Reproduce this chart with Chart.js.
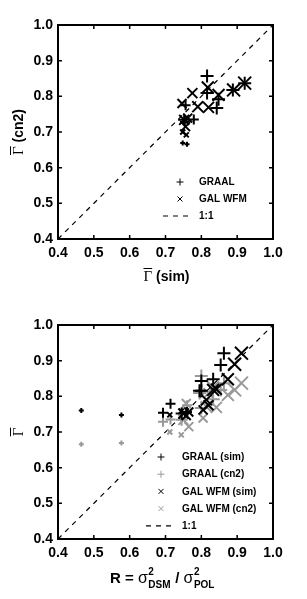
<!DOCTYPE html>
<html>
<head>
<meta charset="utf-8">
<script src="https://cdn.jsdelivr.net/npm/chart.js@4.4.0/dist/chart.umd.min.js"></script>
<style>
  body { margin: 0; background: #fff; }
  canvas { display: block; }
</style>
</head>
<body>
<canvas id="topChart" width="307" height="300"></canvas>
<canvas id="bottomChart" width="307" height="299"></canvas>
<script>
// axis ticks (both axes, both panels)
const tickValues = [0.4, 0.5, 0.6, 0.7, 0.8, 0.9, 1.0];
const tickLabels = ["0.4", "0.5", "0.6", "0.7", "0.8", "0.9", "1.0"];
const oneToOne = [0.4, 1.0];

// GRAAL: ratio R, mean gamma from simulation and from cn2, marker size
const graalR    = [0.465, 0.577, 0.693, 0.714, 0.745, 0.760, 0.800, 0.795, 0.800, 0.833, 0.854, 0.863];
const graalSim  = [0.760, 0.748, 0.754, 0.779, 0.752, 0.756, 0.816, 0.816, 0.843, 0.848, 0.888, 0.921];
const graalCn2  = [0.666, 0.669, 0.729, 0.735, 0.734, 0.775, 0.857, 0.809, 0.767, 0.792, 0.818, 0.837];
const graalSize = [2.5, 2.5, 5, 5, 6, 5, 6.5, 6.5, 6.5, 6.5, 6.5, 6.5];

// GAL WFM
const galR    = [0.712, 0.744, 0.750, 0.758, 0.765, 0.805, 0.814, 0.820, 0.833, 0.842, 0.874, 0.893, 0.912];
const galSim  = [0.748, 0.758, 0.752, 0.746, 0.756, 0.762, 0.790, 0.775, 0.818, 0.820, 0.848, 0.890, 0.921];
const galCn2  = [0.700, 0.692, 0.734, 0.780, 0.715, 0.739, 0.771, 0.809, 0.825, 0.769, 0.804, 0.818, 0.837];
const galSize = [2.5, 2.5, 5, 4.5, 4.5, 4.5, 5.5, 5, 6, 5.5, 6, 6.5, 6.5];

const GRAY = "#999999";
const SANS = '"Liberation Sans", Arial, sans-serif';
const SERIF = '"Liberation Serif", "Times New Roman", serif';

function pts(xs, ys) {
  return xs.map((x, i) => ({ x: x, y: ys[i] }));
}

function markers(label, data, style, color, sizes) {
  // x marks are drawn on the diagonal, so scale them up to the same box as +
  const radii = style === "crossRot" ? sizes.map(s => s * 1.41) : sizes;
  return {
    label: label,
    data: data,
    showLine: false,
    pointStyle: style,
    pointRadius: radii,
    pointHoverRadius: radii,
    borderColor: color,
    backgroundColor: color,
    pointBorderWidth: 2,
  };
}

function diagonal() {
  return {
    type: "line",
    label: "1:1",
    data: pts(oneToOne, oneToOne),
    borderColor: "#000",
    borderWidth: 1.2,
    borderDash: [5, 5],
    pointRadius: 0,
    fill: false,
  };
}

function axis(pos, boxSize) {
  return {
    type: "linear",
    position: pos,
    min: 0.4,
    max: 1.0,
    afterBuildTicks: s => { s.ticks = tickValues.map(v => ({ value: v })); },
    afterFit: s => { if (pos === "left") s.width = boxSize; else s.height = boxSize; },
    grid: { display: false, drawTicks: false },
    border: { display: false },
    ticks: {
      color: "#000",
      autoSkip: false,
      maxRotation: 0,
      padding: pos === "left" ? 5 : 6,
      font: { family: SANS, size: 14, weight: "bold" },
      callback: (v, i) => tickLabels[i],
    },
  };
}

function gammaTitle(ctx, cx, cy, rest, rotate) {
  ctx.save();
  ctx.translate(cx, cy);
  if (rotate) ctx.rotate(-Math.PI / 2);
  const gFont = "15px " + SERIF;
  const rFont = "bold 14px " + SANS;
  ctx.font = gFont;
  const gw = ctx.measureText("\u0393").width;
  ctx.font = rFont;
  const rw = rest ? ctx.measureText(rest).width : 0;
  const x0 = -(gw + rw) / 2;
  ctx.fillStyle = "#000";
  ctx.textBaseline = "alphabetic";
  ctx.font = gFont;
  ctx.fillText("\u0393", x0, 5);
  ctx.fillRect(x0, -8, gw, 1);
  if (rest) {
    ctx.font = rFont;
    ctx.fillText(rest, x0 + gw, 5);
  }
  ctx.restore();
}

function drawMark(ctx, kind, x, y, r, color, lw) {
  ctx.strokeStyle = color;
  ctx.lineWidth = lw;
  ctx.beginPath();
  if (kind === "cross") {
    ctx.moveTo(x - r, y); ctx.lineTo(x + r, y);
    ctx.moveTo(x, y - r); ctx.lineTo(x, y + r);
  } else {
    ctx.moveTo(x - r, y - r); ctx.lineTo(x + r, y + r);
    ctx.moveTo(x - r, y + r); ctx.lineTo(x + r, y - r);
  }
  ctx.stroke();
}

// box, inward ticks, in-plot legend and axis titles
const decor = {
  id: "decor",
  afterDraw(chart, args, opts) {
    const { ctx, chartArea: a, scales } = chart;
    const xs = scales.x, ys = scales.y;
    ctx.save();
    ctx.strokeStyle = "#000";
    ctx.lineWidth = 2;
    ctx.strokeRect(a.left, a.top, a.right - a.left, a.bottom - a.top);
    ctx.lineWidth = 1.5;
    ctx.beginPath();
    tickValues.forEach(v => {
      const px = xs.getPixelForValue(v), py = ys.getPixelForValue(v);
      ctx.moveTo(px, a.bottom); ctx.lineTo(px, a.bottom - 4);
      ctx.moveTo(px, a.top); ctx.lineTo(px, a.top + 4);
      ctx.moveTo(a.left, py); ctx.lineTo(a.left + 4, py);
      ctx.moveTo(a.right, py); ctx.lineTo(a.right - 4, py);
    });
    ctx.stroke();

    // legend
    const L = opts.legend;
    ctx.font = "bold 10px " + SANS;
    ctx.textBaseline = "middle";
    ctx.fillStyle = "#000";
    L.items.forEach((it, i) => {
      const y = L.y + i * L.step;
      if (it.kind === "dash") {
        ctx.strokeStyle = "#000";
        ctx.lineWidth = 1.2;
        ctx.setLineDash([5, 5]);
        ctx.beginPath();
        ctx.moveTo(L.dashFrom, y); ctx.lineTo(L.markX + 13, y);
        ctx.stroke();
        ctx.setLineDash([]);
      } else {
        drawMark(ctx, it.kind, L.markX, y, it.kind === "cross" ? 3.5 : 2.5, it.color, 1);
      }
      ctx.fillStyle = "#000";
      ctx.fillText(it.text, L.textX, y + 0.5);
    });

    // axis titles
    gammaTitle(ctx, 18, (a.top + a.bottom) / 2, opts.yRest, true);
    if (opts.xRest !== undefined) {
      gammaTitle(ctx, (a.left + a.right) / 2 + 1, 276, opts.xRest, false);
    } else {
      drawRatioTitle(ctx, (a.left + a.right) / 2 - 3, 283);
    }
    ctx.restore();
  },
};

function drawRatioTitle(ctx, cx, base) {
  const big = "bold 15px " + SANS;
  const sig = "16px " + SANS;
  const small = "bold 10px " + SANS;
  const parts = [
    { t: "R = ", f: big },
    { t: "\u03c3", f: sig },
    { sup: "2", sub: "DSM" },
    { t: " / ", f: big },
    { t: "\u03c3", f: sig },
    { sup: "2", sub: "POL" },
  ];
  let total = 0;
  parts.forEach(p => {
    if (p.t) { ctx.font = p.f; p.w = ctx.measureText(p.t).width; }
    else { ctx.font = small; p.w = Math.max(ctx.measureText(p.sup).width, ctx.measureText(p.sub).width) + 1; }
    total += p.w;
  });
  let x = cx - total / 2;
  ctx.fillStyle = "#000";
  ctx.textBaseline = "alphabetic";
  parts.forEach(p => {
    if (p.t) { ctx.font = p.f; ctx.fillText(p.t, x, base); }
    else {
      ctx.font = small;
      ctx.fillText(p.sup, x + 0.5, base - 8);
      ctx.fillText(p.sub, x + 0.5, base + 5);
    }
    x += p.w;
  });
}

function baseOptions(xBox, decorOpts) {
  return {
    responsive: false,
    animation: false,
    devicePixelRatio: 1,
    layout: { padding: { top: 25, right: 34, left: 0, bottom: 0 } },
    plugins: { legend: { display: false }, tooltip: { enabled: false }, decor: decorOpts },
    scales: { x: axis("bottom", xBox), y: axis("left", 58) },
  };
}

new Chart(document.getElementById("topChart"), {
  type: "scatter",
  data: {
    datasets: [
      markers("GRAAL", pts(graalSim, graalCn2), "cross", "#000", graalSize),
      markers("GAL WFM", pts(galSim, galCn2), "crossRot", "#000", galSize),
      diagonal(),
    ],
  },
  options: baseOptions(61, {
    yRest: " (cn2)",
    xRest: " (sim)",
    legend: {
      markX: 180, textX: 199, y: 182, step: 17, dashFrom: 163,
      items: [
        { kind: "cross", color: "#000", text: "GRAAL" },
        { kind: "crossRot", color: "#000", text: "GAL WFM" },
        { kind: "dash", text: "1:1" },
      ],
    },
  }),
  plugins: [decor],
});

new Chart(document.getElementById("bottomChart"), {
  type: "scatter",
  data: {
    datasets: [
      markers("GRAAL (sim)", pts(graalR, graalSim), "cross", "#000", graalSize),
      markers("GAL WFM (sim)", pts(galR, galSim), "crossRot", "#000", galSize),
      markers("GRAAL (cn2)", pts(graalR, graalCn2), "cross", GRAY, graalSize),
      markers("GAL WFM (cn2)", pts(galR, galCn2), "crossRot", GRAY, galSize),
      diagonal(),
    ],
  },
  options: baseOptions(60, {
    yRest: "",
    legend: {
      markX: 161, textX: 182, y: 157, step: 17.2, dashFrom: 146,
      items: [
        { kind: "cross", color: "#000", text: "GRAAL (sim)" },
        { kind: "cross", color: GRAY, text: "GRAAL (cn2)" },
        { kind: "crossRot", color: "#000", text: "GAL WFM (sim)" },
        { kind: "crossRot", color: GRAY, text: "GAL WFM (cn2)" },
        { kind: "dash", text: "1:1" },
      ],
    },
  }),
  plugins: [decor],
});
</script>
</body>
</html>
